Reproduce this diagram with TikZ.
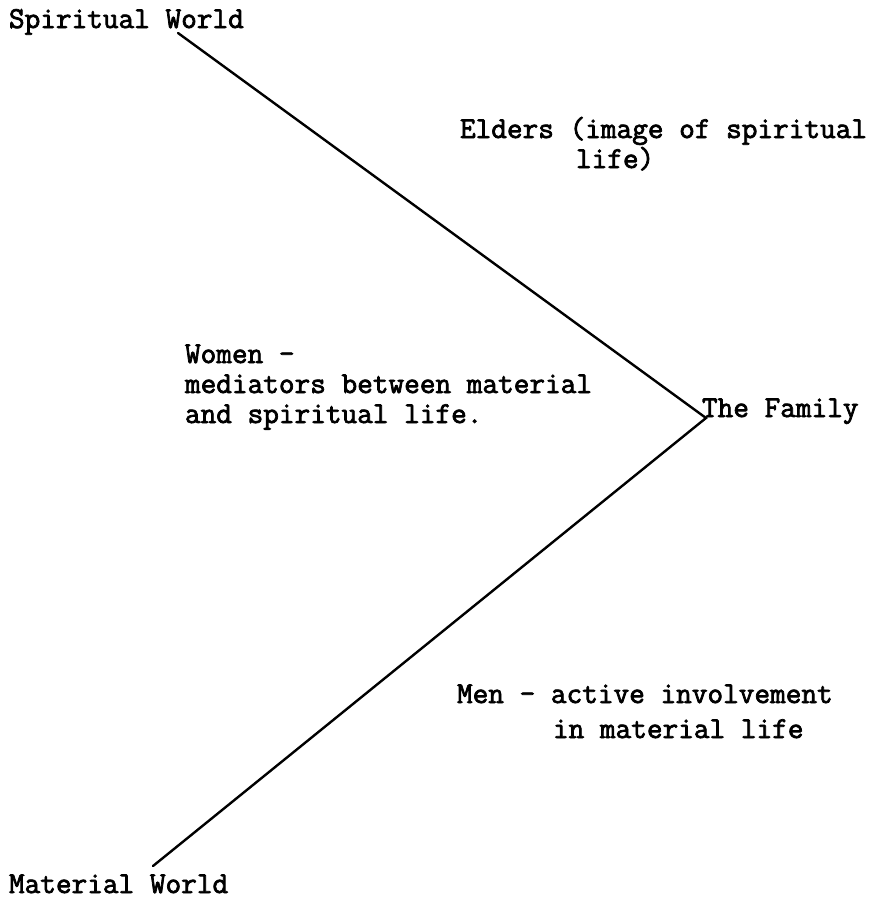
\documentclass[tikz,border=0pt]{standalone}
\usepackage{fontspec}
\newfontfamily\twfont{Latin Modern Mono}[FakeBold=2.4]
\tikzset{
  lbl/.style={anchor=base west, inner sep=0pt, outer sep=0pt, font=\twfont\fontsize{22.8}{30}\selectfont},
  edge/.style={line width=1.8pt, line cap=round, line join=miter}
}
\begin{document}
\begin{tikzpicture}[x=0.75pt, y=-0.75pt]
\useasboundingbox (0,0) rectangle (883,903);
% labels
\node[lbl] (sw) at (9,28) {Spiritual World};
\node[lbl] (mw) at (9,893) {Material World};
\node[lbl] (fam) at (702,417) {The Family};
\node[lbl] (eld1) at (460,138) {Elders (image of spiritual};
\node[lbl] (eld2) at (576,168) {life)};
\node[lbl] (wom1) at (185,363) {Women -};
\node[lbl] (wom2) at (185,393) {mediators between material};
\node[lbl] (wom3) at (185,423) {and spiritual life.};
\node[lbl] (men1) at (457,703) {Men - active involvement};
\node[lbl] (men2) at (553,738) {in material life};
% connector anchor points
\coordinate (top) at (178,33);
\coordinate (vtx) at (706,418);
\coordinate (bot) at (153,866);
\draw[edge] (top) -- (vtx) -- (bot);
\end{tikzpicture}
\end{document}
